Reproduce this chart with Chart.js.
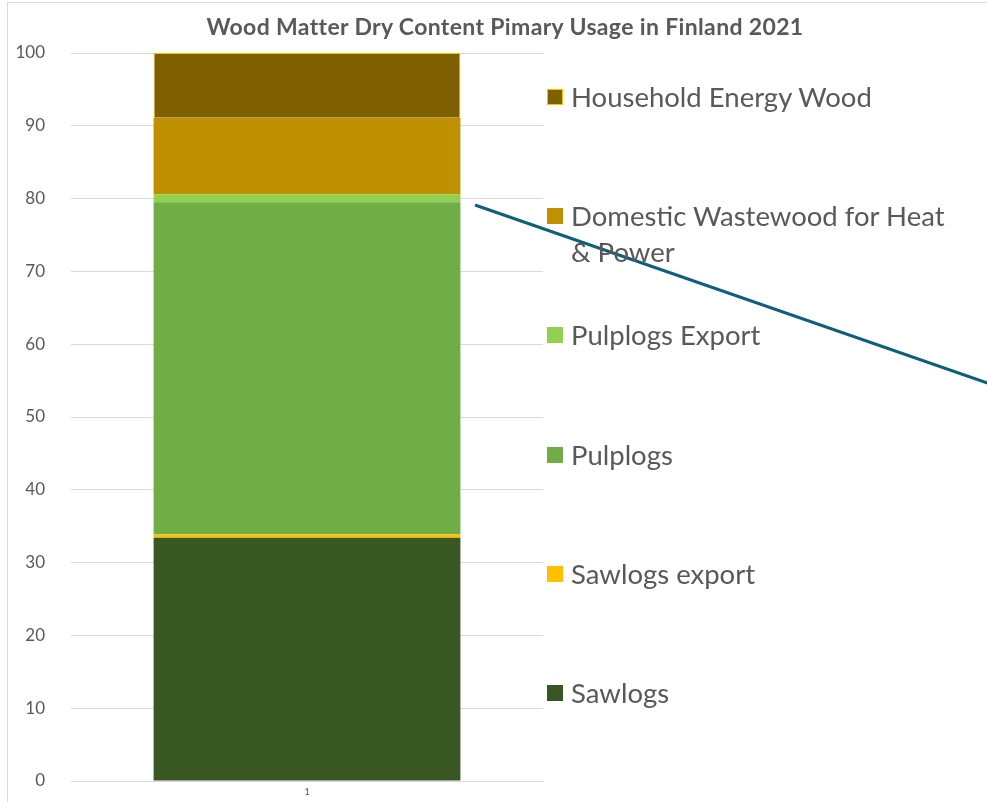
<!DOCTYPE html>
<html>
<head>
<meta charset="utf-8">
<script src="https://cdn.jsdelivr.net/npm/chart.js@4/dist/chart.umd.min.js"></script>
<style>
  html, body { margin: 0; padding: 0; background: #fff; }
  body { width: 987px; height: 802px; position: relative; overflow: hidden; font-family: Lato, "Open Sans", sans-serif; }
  #frame { position: absolute; left: 7px; top: 2px; right: -2px; bottom: -2px; border-left: 1px solid #d9d9d9; border-top: 1px solid #d9d9d9; }
  #wrap { position: absolute; left: 0; top: 0; width: 987px; height: 802px; }
  #title { position: absolute; left: 0; top: 12px; width: 1010px; text-align: center; font-weight: bold; font-size: 23px; letter-spacing: 0.35px; color: #595959; }
  #legend { position: absolute; left: 547px; top: 0; width: 440px; height: 802px; }
  .item { position: absolute; left: 0; width: 414px; font-size: 27.5px; line-height: 36px; color: #595959; }
  .item .box { position: absolute; left: 0; top: 10px; width: 16px; height: 16px; box-sizing: border-box; }
  .item .txt { display: block; margin-left: 24px; }
</style>
</head>
<body>
<div id="frame"></div>
<div id="wrap"><canvas id="woodChart" width="987" height="802"></canvas></div>
<div id="title">Wood Matter Dry Content Pimary Usage in Finland 2021</div>
<div id="legend"></div>
<script>
  // Kategoriat ja arvot (% kuiva-aineesta), alhaalta ylös
  const categories = ['1'];
  const seriesNames = ['Sawlogs', 'Sawlogs export', 'Pulplogs', 'Pulplogs Export', 'Domestic Wastewood for Heat & Power', 'Household Energy Wood'];
  const sawlogs = [33.4];
  const sawlogsExport = [0.5];
  const pulplogs = [45.6];
  const pulplogsExport = [1.1];
  const domesticWastewood = [10.5];
  const householdEnergyWood = [8.9];
  const yTicks = [0, 10, 20, 30, 40, 50, 60, 70, 80, 90, 100];

  const seriesValues = [sawlogs, sawlogsExport, pulplogs, pulplogsExport, domesticWastewood, householdEnergyWood];
  const fills = ['#385723', '#FFC000', '#70AD47', '#92D050', '#BF9000', '#7F6000'];
  const edges = [null, null, null, null, null, '#FFC000'];

  const datasets = seriesNames.map((name, i) => ({
    label: name,
    data: seriesValues[i],
    backgroundColor: fills[i],
    borderColor: edges[i] || fills[i],
    borderWidth: edges[i] ? 1 : 0,
    barPercentage: 0.65,
    categoryPercentage: 1.0,
  }));

  // vino viiva kaavion päällä
  const connectorLine = {
    id: 'connectorLine',
    afterDraw(chart) {
      const ctx = chart.ctx;
      ctx.save();
      ctx.strokeStyle = '#0E5F79';
      ctx.lineWidth = 3;
      ctx.beginPath();
      ctx.moveTo(475, 205);
      ctx.lineTo(990, 384);
      ctx.stroke();
      ctx.restore();
    }
  };

  new Chart(document.getElementById('woodChart').getContext('2d'), {
    type: 'bar',
    data: { labels: categories, datasets: datasets },
    options: {
      responsive: false,
      animation: false,
      layout: { padding: { left: 0, right: 444, top: 53, bottom: 0 } },
      plugins: {
        legend: { display: false },
        title: { display: false },
        tooltip: { enabled: false },
      },
      scales: {
        x: {
          stacked: true,
          grid: { display: false, drawTicks: false },
          border: { color: '#d9d9d9' },
          ticks: { color: '#595959', font: { family: 'Lato', size: 9 }, padding: 6 },
          afterFit(scale) { scale.height = 21; },
        },
        y: {
          stacked: true,
          min: 0,
          max: 100,
          afterBuildTicks(scale) { scale.ticks = yTicks.map(v => ({ value: v })); },
          // näkymätön tick-viiva siirtää numerot vasemmalle
          grid: { color: '#d9d9d9', tickLength: 22, tickColor: 'rgba(0,0,0,0)' },
          border: { display: false },
          ticks: { color: '#595959', font: { family: 'Lato', size: 17 }, padding: 4 },
          afterFit(scale) { scale.width = 71; },
        },
      },
    },
    plugins: [connectorLine],
  });

  // selite oikealle, ylin sarja ensin
  const legend = document.getElementById('legend');
  seriesNames.slice().reverse().forEach((name, k) => {
    const i = seriesNames.length - 1 - k;
    const item = document.createElement('div');
    item.className = 'item';
    item.style.top = (97 + k * 119.2 - 18) + 'px';
    const box = document.createElement('span');
    box.className = 'box';
    box.style.background = fills[i];
    if (edges[i]) box.style.border = '1px solid ' + edges[i];
    const txt = document.createElement('span');
    txt.className = 'txt';
    txt.textContent = name;
    item.appendChild(box);
    item.appendChild(txt);
    legend.appendChild(item);
  });
</script>
</body>
</html>
